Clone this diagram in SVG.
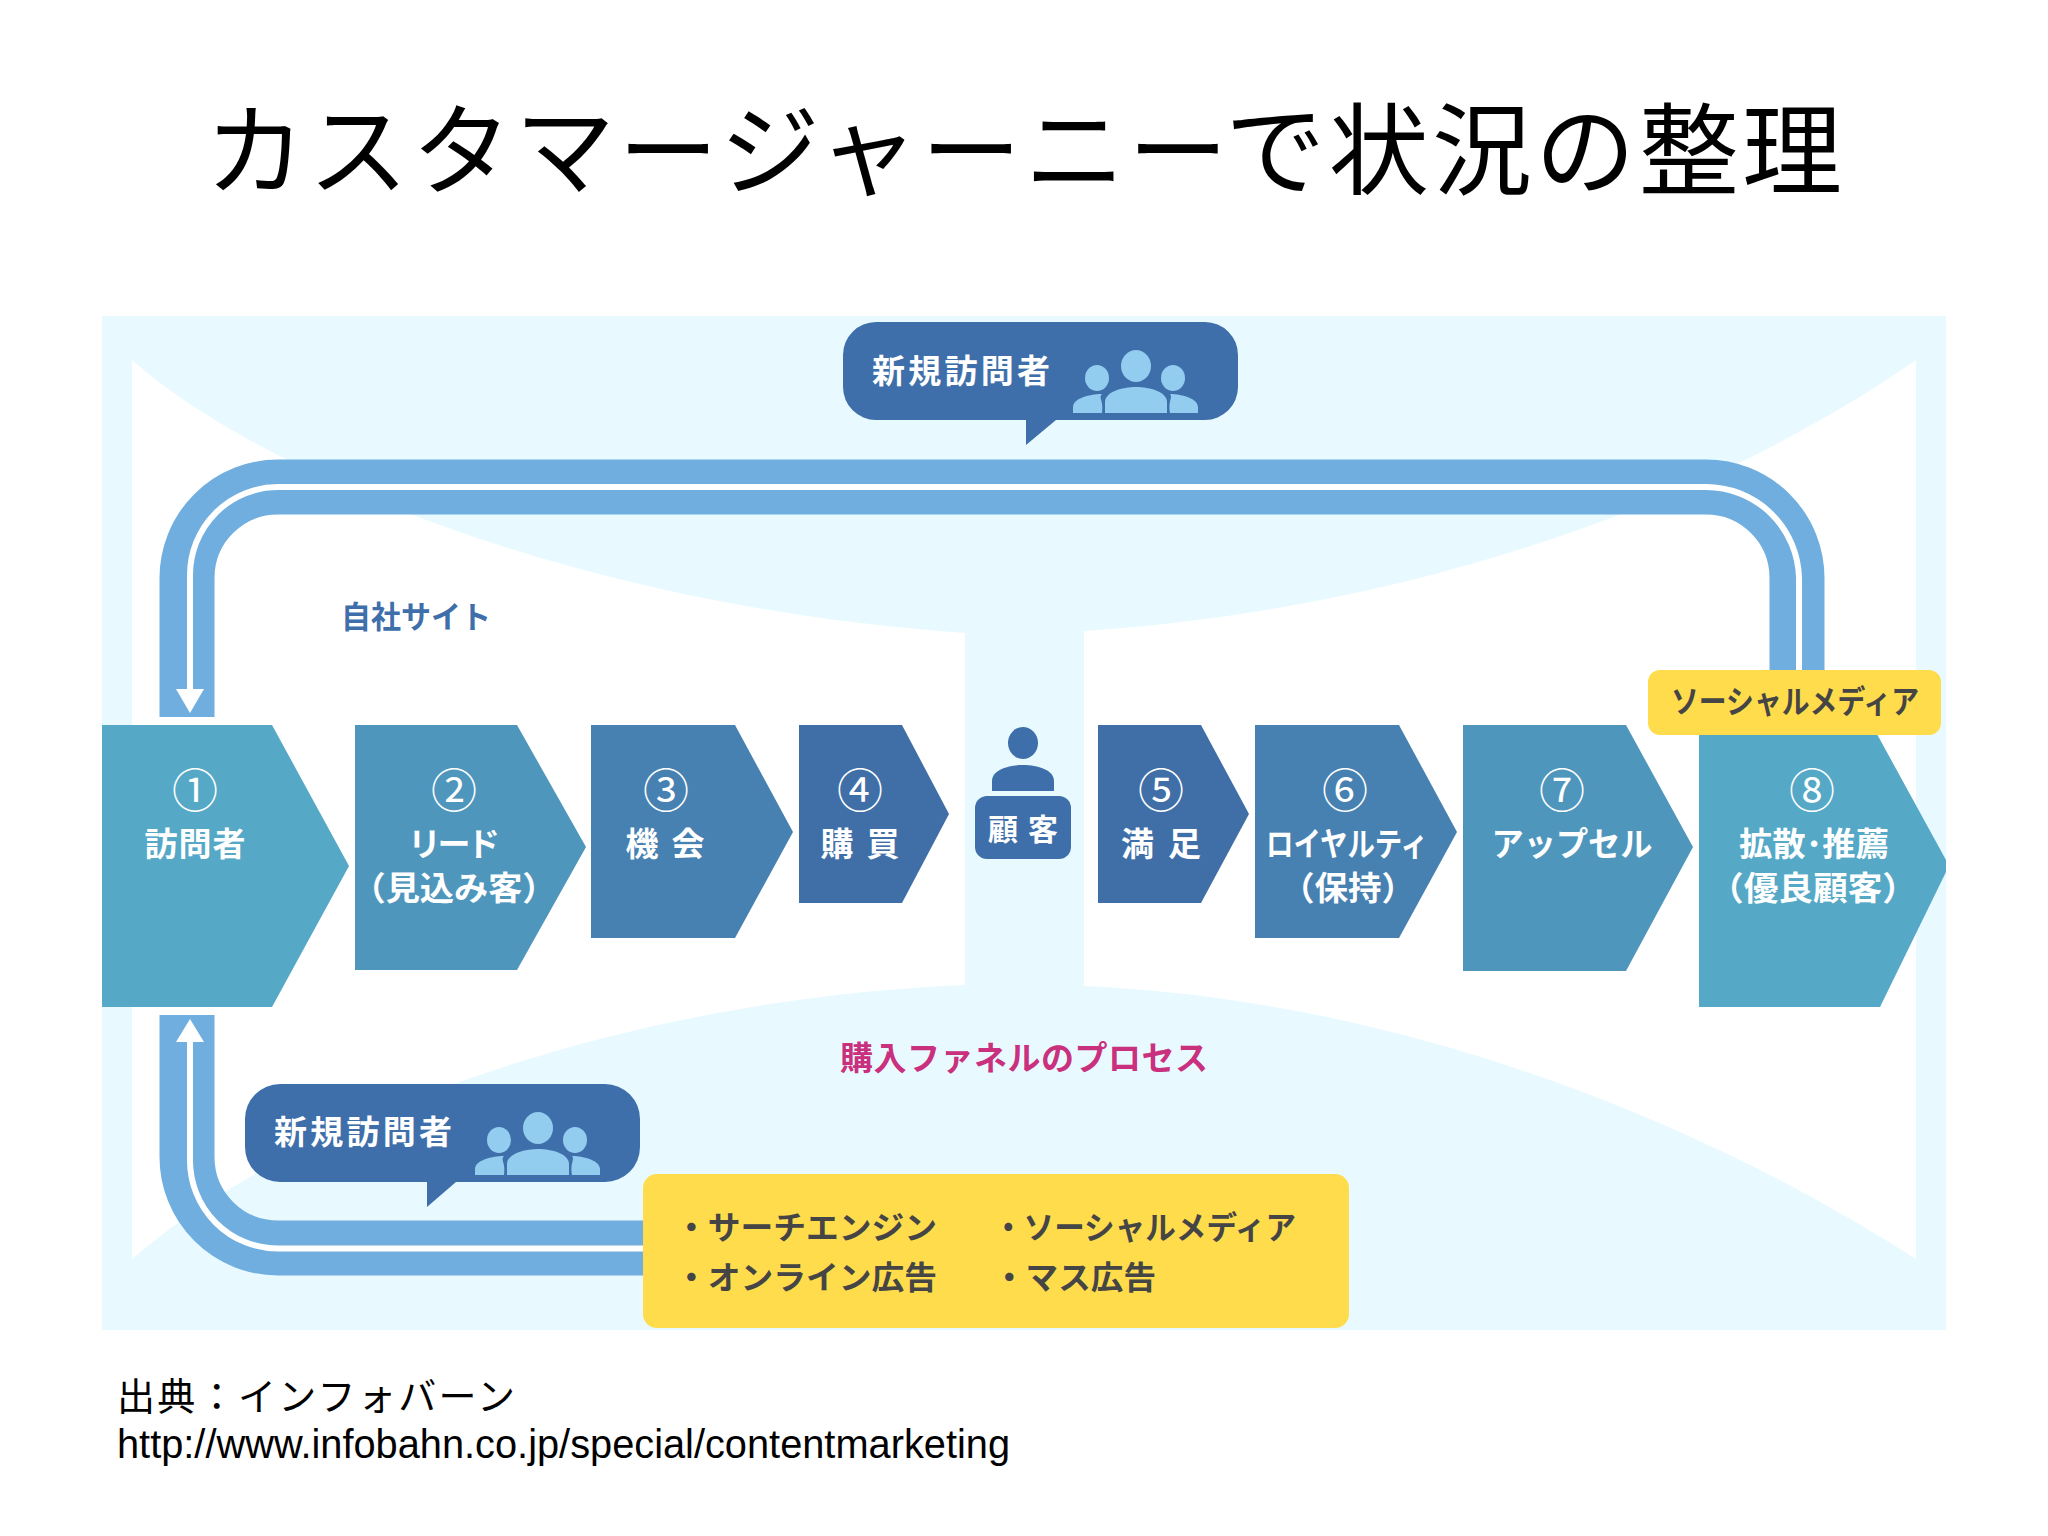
<svg xmlns="http://www.w3.org/2000/svg" xmlns:xlink="http://www.w3.org/1999/xlink" width="2048" height="1536" viewBox="0 0 2048 1536">
<style>
text{font-family:"Noto Sans CJK JP","Noto Sans",sans-serif}
.w{fill:#fff;font-weight:700;font-size:33px;text-anchor:middle}
.n{fill:#fff;font-weight:400;font-size:46px;text-anchor:middle}
.d{fill:#454545;font-weight:700;font-size:32px}
.band{fill:none;stroke:#70aedf;stroke-width:55}
.line{fill:none;stroke:#fff;stroke-width:6}
.c1{fill:#55a8c6}.c2{fill:#4f96bd}.c3{fill:#4781b1}.c4{fill:#406fa8}
.b{fill:#3f6faa}.y{fill:#ffdc4c}.ic{fill:#92ccef}
</style>
<defs>
<g id="people">
<ellipse cx="1097" cy="378" rx="12" ry="13" class="ic"/>
<ellipse cx="1173" cy="378" rx="12" ry="13" class="ic"/>
<ellipse cx="1136" cy="366" rx="15" ry="16" class="ic"/>
<path class="ic" d="M1073 413V407C1073 399 1088 394 1102 394C1098 398 1104 400 1102 413Z"/>
<path class="ic" d="M1198 413V407C1198 399 1183 394 1170 394C1173 398 1168 400 1170 413Z"/>
<path class="ic" d="M1105 413V402C1105 392 1122 387 1136 387C1150 387 1167 392 1167 402V413Z"/>
</g>
</defs>
<rect width="2048" height="1536" fill="#fff"/>
<text id="title" x="205" y="187" font-size="100" textLength="1637" lengthAdjust="spacing" fill="#000">カスタマージャーニーで状況の整理</text>
<rect id="panel" x="102" y="316" width="1844" height="1014" fill="#e8faff"/>
<g id="funnel" fill="#fff">
<path d="M132 360C250 465 560 605 965 633V985C600 1000 280 1130 132 1259Z"/>
<path d="M1916 360C1700 510 1400 610 1084 631V986C1400 1000 1700 1120 1916 1259Z"/>
</g>
<g id="connectors">
<path class="band" d="M1797 680V578A91 91 0 0 0 1706 487H278A91 91 0 0 0 187 578V717"/>
<path class="line" d="M1799 680V578A93 93 0 0 0 1706 487H278A88 88 0 0 0 190 575V695"/>
<path fill="#fff" d="M176 689H204L190 713Z"/>
<path class="band" d="M187 1015V1157A91 91 0 0 0 278 1248H650"/>
<path class="line" d="M190 1035V1160A88 88 0 0 0 278 1248.500H650"/>
<path fill="#fff" d="M176 1042H204L190 1019Z"/>
</g>
<g id="bubble-top">
<path class="b" d="M876 322H1205A33 33 0 0 1 1238 355V387A33 33 0 0 1 1205 420H1056L1026 445V420H876A33 33 0 0 1 843 387V355A33 33 0 0 1 876 322Z"/>
<text x="961" y="383" class="w" textLength="178" lengthAdjust="spacing">新規訪問者</text>
<use xlink:href="#people" href="#people"/>
</g>
<g id="bubble-bottom">
<path class="b" d="M280 1084H605A35 35 0 0 1 640 1119V1147A35 35 0 0 1 605 1182H456L427 1207V1182H280A35 35 0 0 1 245 1147V1119A35 35 0 0 1 280 1084Z"/>
<text x="363" y="1144" class="w" textLength="178" lengthAdjust="spacing">新規訪問者</text>
<use xlink:href="#people" href="#people" transform="translate(-598 762)"/>
</g>
<text id="site" x="341" y="628" font-size="31" font-weight="700" fill="#3f6faa" textLength="150" lengthAdjust="spacingAndGlyphs">自社サイト</text>
<text id="process" x="840" y="1070" font-size="33" font-weight="700" fill="#c9307e" textLength="368" lengthAdjust="spacing">購入ファネルのプロセス</text>
<g id="step1">
<path class="c1" d="M102 725H272L349 866L272 1007H102Z"/>
<text x="195" y="807" class="n">①</text>
<text x="195" y="856" class="w" textLength="101" lengthAdjust="spacing">訪問者</text>
</g>
<g id="step2">
<path class="c2" d="M355 725H517L586 847L517 970H355Z"/>
<text x="454" y="807" class="n">②</text>
<text x="454" y="856" class="w" textLength="92" lengthAdjust="spacing">リード</text>
<text x="454" y="900" class="w" textLength="205" lengthAdjust="spacingAndGlyphs">（見込み客）</text>
</g>
<g id="step3">
<path class="c3" d="M591 725H735L793 832L735 938H591Z"/>
<text x="666" y="807" class="n">③</text>
<text x="665" y="856" class="w" textLength="79" lengthAdjust="spacing" xml:space="preserve">機 会</text>
</g>
<g id="step4">
<path class="c4" d="M799 725H902L949 814L902 903H799Z"/>
<text x="860" y="807" class="n">④</text>
<text x="860" y="856" class="w" textLength="79" lengthAdjust="spacing" xml:space="preserve">購 買</text>
</g>
<g id="customer">
<ellipse cx="1023" cy="743" rx="15" ry="16" class="b"/>
<path class="b" d="M992 791V781C992 770 1008 765 1023 765C1038 765 1054 770 1054 781V791Z"/>
<rect x="975" y="796" width="96" height="63" rx="12" class="b"/>
<text x="1023" y="840" class="w" textLength="70" lengthAdjust="spacing" xml:space="preserve" style="font-size:30px">顧 客</text>
</g>
<g id="step5">
<path class="c4" d="M1098 725H1201L1249 814L1201 903H1098Z"/>
<text x="1161" y="807" class="n">⑤</text>
<text x="1161" y="856" class="w" textLength="80" lengthAdjust="spacing" xml:space="preserve">満 足</text>
</g>
<g id="step6">
<path class="c3" d="M1255 725H1399L1457 832L1399 938H1255Z"/>
<text x="1345" y="807" class="n">⑥</text>
<text x="1347" y="856" class="w" textLength="162" lengthAdjust="spacingAndGlyphs">ロイヤルティ</text>
<text x="1348" y="900" class="w" textLength="134" lengthAdjust="spacingAndGlyphs">（保持）</text>
</g>
<g id="step7">
<path class="c2" d="M1463 725H1626L1693 847L1626 971H1463Z"/>
<text x="1562" y="807" class="n">⑦</text>
<text x="1572" y="856" class="w" textLength="161" lengthAdjust="spacingAndGlyphs">アップセル</text>
</g>
<g id="step8">
<path class="c1" d="M1699 725H1872L1946 860V872L1880 1007H1699Z"/>
<text x="1812" y="807" class="n">⑧</text>
<text x="1814" y="856" class="w" textLength="150" lengthAdjust="spacingAndGlyphs">拡散･推薦</text>
<text x="1813" y="900" class="w" textLength="208" lengthAdjust="spacingAndGlyphs">（優良顧客）</text>
</g>
<g id="tag-social">
<rect x="1648" y="670" width="293" height="65" rx="12" class="y"/>
<text x="1795" y="713" text-anchor="middle" class="d" textLength="248" lengthAdjust="spacingAndGlyphs">ソーシャルメディア</text>
</g>
<g id="channels">
<rect x="643" y="1174" width="706" height="154" rx="14" class="y"/>
<text x="675" y="1239" class="d" textLength="262" lengthAdjust="spacingAndGlyphs">・サーチエンジン</text>
<text x="675" y="1289" class="d" textLength="262" lengthAdjust="spacingAndGlyphs">・オンライン広告</text>
<text x="993" y="1239" class="d" textLength="303" lengthAdjust="spacingAndGlyphs">・ソーシャルメディア</text>
<text x="993" y="1289" class="d" textLength="163" lengthAdjust="spacingAndGlyphs">・マス広告</text>
</g>
<g id="source" fill="#000">
<text x="117" y="1410" font-size="38" textLength="398" lengthAdjust="spacing">出典：インフォバーン</text>
<text x="117" y="1458" font-size="40" style="font-family:'Liberation Sans',sans-serif" textLength="893" lengthAdjust="spacingAndGlyphs">http://www.infobahn.co.jp/special/contentmarketing</text>
</g>
</svg>
